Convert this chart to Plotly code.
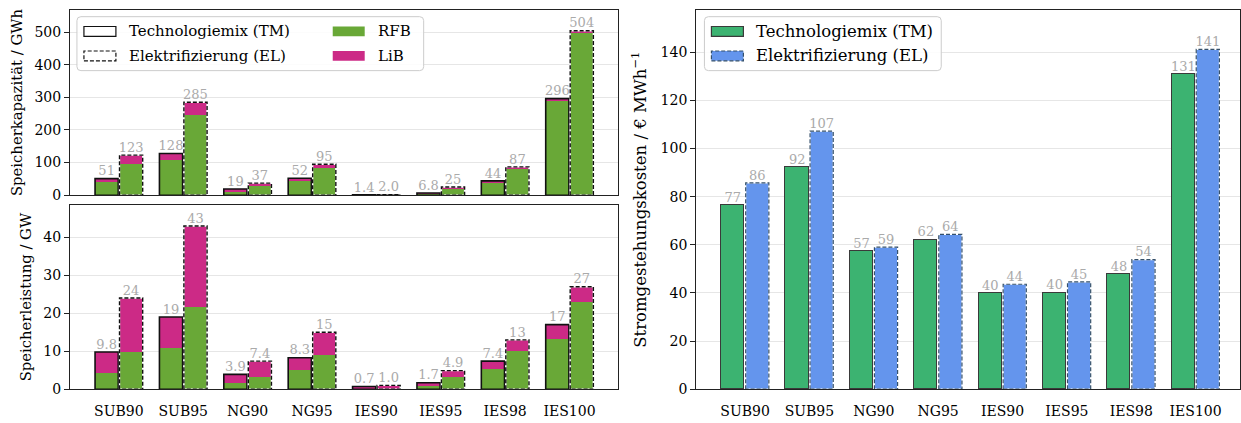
import plotly.graph_objects as go

# ---------------- data ----------------
scenarios = ["SUB90", "SUB95", "NG90", "NG95", "IES90", "IES95", "IES98", "IES100"]

# Speicherkapazität / GWh
cap_tm_total = [51, 128, 19, 52, 1.4, 6.8, 44, 296]
cap_tm_rfb = [40, 110, 13, 46, 1.0, 6.0, 40, 289]
cap_el_total = [123, 285, 37, 95, 2.0, 25, 87, 504]
cap_el_rfb = [95, 245, 31, 85, 1.5, 21, 82, 497]

# Speicherleistung / GW
pow_tm_total = [9.8, 19, 3.9, 8.3, 0.7, 1.7, 7.4, 17]
pow_tm_rfb = [4.3, 10.8, 1.6, 5.0, 0.1, 0.7, 5.2, 13.3]
pow_el_total = [24, 43, 7.4, 15, 1.0, 4.9, 13, 27]
pow_el_rfb = [9.7, 21.6, 3.1, 9.0, 0.1, 3.1, 10.1, 23.0]

# Stromgestehungskosten / € MWh^-1
lcoe_tm = [76.6, 92.2, 57.3, 62.1, 39.8, 40.1, 47.9, 131.0]
lcoe_el = [85.7, 107.2, 59.0, 64.3, 43.6, 44.6, 53.8, 141.2]

# ---------------- styles ----------------
FONT = "DejaVu Serif, Liberation Serif, serif"
C_RFB = "#69a837"
C_LIB = "#cc2a86"
C_TM = "#3cb371"
C_EL = "#6495ed"
LBL = "#aaaaaa"
W = 0.36
OFF = 0.19
DASH = "4px,2px"
TICK_SIZE = 14
TITLE_SIZE = 14.8
TITLE_SIZE_R = 16.5
LEG_SIZE = 15
LEG_SIZE_R = 16.5
LBL_SIZE = 13

idx = list(range(len(scenarios)))
x_tm = [i - OFF for i in idx]
x_el = [i + OFF for i in idx]


def fmt(v):
    return f"{v:.1f}" if v < 10 else f"{v:.0f}"


def outline(xs, tops):
    px, py = [], []
    for x, t in zip(xs, tops):
        px += [x - W / 2, x - W / 2, x + W / 2, x + W / 2, x - W / 2, None]
        py += [0, t, t, 0, 0, None]
    return px, py


fig = go.Figure()


def stacked_panel(xa, ya, tm_total, tm_rfb, el_total, el_rfb):
    tm_lib = [t - r for t, r in zip(tm_total, tm_rfb)]
    el_lib = [t - r for t, r in zip(el_total, el_rfb)]
    for xs, rfb, lib in ((x_tm, tm_rfb, tm_lib), (x_el, el_rfb, el_lib)):
        fig.add_trace(go.Bar(x=xs, y=rfb, width=W, marker=dict(color=C_RFB, line=dict(width=0)),
                             xaxis=xa, yaxis=ya, showlegend=False))
        fig.add_trace(go.Bar(x=xs, y=lib, width=W, marker=dict(color=C_LIB, line=dict(width=0)),
                             xaxis=xa, yaxis=ya, showlegend=False))
    px, py = outline(x_tm, tm_total)
    fig.add_trace(go.Scatter(x=px, y=py, mode="lines", line=dict(color="#111111", width=1.6),
                             xaxis=xa, yaxis=ya, showlegend=False, hoverinfo="skip"))
    px, py = outline(x_el, el_total)
    fig.add_trace(go.Scatter(x=px, y=py, mode="lines", line=dict(color="white", width=1.4),
                             xaxis=xa, yaxis=ya, showlegend=False, hoverinfo="skip"))
    fig.add_trace(go.Scatter(x=px, y=py, mode="lines", line=dict(color="#111111", width=1.4, dash=DASH),
                             xaxis=xa, yaxis=ya, showlegend=False, hoverinfo="skip"))
    fig.add_trace(go.Scatter(x=x_tm + x_el, y=list(tm_total) + list(el_total),
                             text=[fmt(v) for v in tm_total] + [fmt(v) for v in el_total],
                             mode="text", textposition="top center",
                             textfont=dict(family=FONT, size=LBL_SIZE, color=LBL),
                             xaxis=xa, yaxis=ya, showlegend=False, cliponaxis=False, hoverinfo="skip"))


stacked_panel("x", "y", cap_tm_total, cap_tm_rfb, cap_el_total, cap_el_rfb)
stacked_panel("x2", "y2", pow_tm_total, pow_tm_rfb, pow_el_total, pow_el_rfb)

# right panel
fig.add_trace(go.Bar(x=x_tm, y=lcoe_tm, width=W, marker=dict(color=C_TM, line=dict(color="#3a3a3a", width=1)),
                     xaxis="x3", yaxis="y3", showlegend=False))
fig.add_trace(go.Bar(x=x_el, y=lcoe_el, width=W, marker=dict(color=C_EL, line=dict(width=0)),
                     xaxis="x3", yaxis="y3", showlegend=False))
px, py = outline(x_el, lcoe_el)
fig.add_trace(go.Scatter(x=px, y=py, mode="lines", line=dict(color="white", width=1.2),
                         xaxis="x3", yaxis="y3", showlegend=False, hoverinfo="skip"))
fig.add_trace(go.Scatter(x=px, y=py, mode="lines", line=dict(color="#34506b", width=1.2, dash=DASH),
                         xaxis="x3", yaxis="y3", showlegend=False, hoverinfo="skip"))
fig.add_trace(go.Scatter(x=x_tm + x_el, y=lcoe_tm + lcoe_el,
                         text=[f"{v:.0f}" for v in lcoe_tm] + [f"{v:.0f}" for v in lcoe_el],
                         mode="text", textposition="top center",
                         textfont=dict(family=FONT, size=LBL_SIZE, color=LBL),
                         xaxis="x3", yaxis="y3", showlegend=False, cliponaxis=False, hoverinfo="skip"))

# ---------------- axes ----------------
PW, PH = 1241, 423
axis_common = dict(showline=True, linecolor="#222222", linewidth=1, mirror=True,
                   tickfont=dict(family=FONT, size=TICK_SIZE, color="black"), zeroline=False)
xcommon = dict(axis_common, tickvals=idx, ticktext=scenarios, ticks="outside", ticklen=9,
               tickcolor="rgba(0,0,0,0)", showgrid=False)
ycommon = dict(axis_common, ticks="outside", ticklen=5, tickcolor="#222222",
               showgrid=True, gridcolor="#e6e6e6", gridwidth=1)

fig.update_layout(
    width=PW, height=PH, margin=dict(l=0, r=0, t=0, b=0),
    paper_bgcolor="white", plot_bgcolor="white", barmode="stack", bargap=0,
    font=dict(family=FONT, size=TICK_SIZE, color="black"),
    xaxis=dict(xcommon, domain=[70 / PW, 618 / PW], range=[-0.76, 7.745], anchor="y", showticklabels=False),
    yaxis=dict(ycommon, domain=[1 - 199 / PH, 1 - 10 / PH], range=[0, 568], dtick=100, anchor="x",
               title=dict(text="Speicherkapazität / GWh", standoff=8,
                          font=dict(family=FONT, size=TITLE_SIZE, color="black"))),
    xaxis2=dict(xcommon, domain=[70 / PW, 618 / PW], range=[-0.76, 7.745], anchor="y2"),
    yaxis2=dict(ycommon, domain=[1 - 396.7 / PH, 1 - 209 / PH], range=[0, 48.5], dtick=10, anchor="x2",
                title=dict(text="Speicherleistung / GW", standoff=8,
                           font=dict(family=FONT, size=TITLE_SIZE, color="black"))),
    xaxis3=dict(xcommon, domain=[696.7 / PW, 1.0], range=[-0.76, 7.69], anchor="y3"),
    yaxis3=dict(ycommon, domain=[1 - 396.7 / PH, 1 - 10.3 / PH], range=[0, 157.5], dtick=20, anchor="x3",
                title=dict(text="Stromgestehungskosten / € MWh<sup>−1</sup>", standoff=9,
                           font=dict(family=FONT, size=TITLE_SIZE_R, color="black"))),
)

# ---------------- legends (drawn in paper pixels) ----------------
shapes, annots = [], []


def px2x(v):
    return v / PW


def px2y(v):
    return 1 - v / PH


def legend_box(x0, y0, x1, y1, r=4):
    rx, ry = r / PW, r / PH
    X0, X1 = px2x(x0), px2x(x1)
    Yt, Yb = px2y(y0), px2y(y1)
    path = (f"M{X0 + rx},{Yt} L{X1 - rx},{Yt} Q{X1},{Yt} {X1},{Yt - ry} "
            f"L{X1},{Yb + ry} Q{X1},{Yb} {X1 - rx},{Yb} L{X0 + rx},{Yb} Q{X0},{Yb} {X0},{Yb + ry} "
            f"L{X0},{Yt - ry} Q{X0},{Yt} {X0 + rx},{Yt} Z")
    shapes.append(dict(type="path", xref="paper", yref="paper", path=path,
                       line=dict(color="#cccccc", width=1),
                       fillcolor="rgba(255,255,255,0.85)", layer="above"))


def legend_item(x, yc, text, fill, lcolor, dash, lw=1.2, size=LEG_SIZE):
    shapes.append(dict(type="rect", xref="paper", yref="paper", x0=px2x(x), x1=px2x(x + 32),
                       y0=px2y(yc + 5), y1=px2y(yc - 5), fillcolor=fill,
                       line=dict(color=lcolor, width=lw, dash=dash), layer="above"))
    annots.append(dict(xref="paper", yref="paper", x=px2x(x + 43), y=px2y(yc), text=text,
                       showarrow=False, xanchor="left", yanchor="middle",
                       font=dict(family=FONT, size=size, color="black")))


legend_box(77, 17, 424, 72)
legend_item(84, 32, "Technologiemix (TM)", "white", "#111111", "solid")
legend_item(84, 57, "Elektrifizierung (EL)", "white", "#111111", DASH)
legend_item(333, 32, "RFB", C_RFB, C_RFB, "solid", 0)
legend_item(333, 57, "LiB", C_LIB, C_LIB, "solid", 0)

legend_box(705, 17, 942, 72)
legend_item(712, 32, "Technologiemix (TM)", C_TM, "#3a3a3a", "solid", size=LEG_SIZE_R)
legend_item(712, 57, "Elektrifizierung (EL)", C_EL, "#34506b", DASH, size=LEG_SIZE_R)

fig.update_layout(shapes=shapes, annotations=annots)

fig.write_html("out.html", config={"displayModeBar": False},
               post_script="document.body.style.margin='0px';document.body.style.overflow='hidden';")
